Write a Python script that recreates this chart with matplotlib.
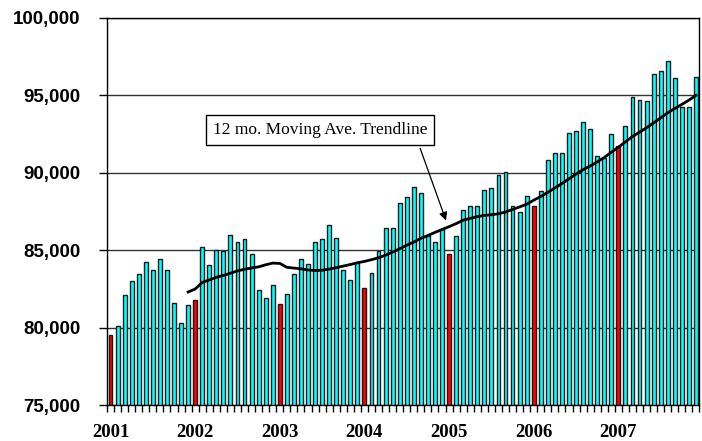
import numpy as np
import pandas as pd
import matplotlib
matplotlib.use("Agg")
import matplotlib.pyplot as plt
from matplotlib.ticker import FixedLocator

# monthly values, Jan..Dec
y2001 = [79500, 80100, 82100, 83000, 83450, 84250, 83700, 84450, 83700, 81600, 80300, 81450]
y2002 = [81800, 85200, 84050, 85000, 84950, 85950, 85500, 85700, 84750, 82450, 81900, 82750]
y2003 = [81550, 82200, 83450, 84400, 84100, 85500, 85700, 86650, 85800, 83700, 83100, 84150]
y2004 = [82550, 83550, 84950, 86450, 86450, 88050, 88450, 89100, 88700, 85900, 85500, 86400]
y2005 = [84750, 85900, 87600, 87850, 87850, 88900, 89050, 89850, 90050, 87850, 87500, 88500]
y2006 = [87850, 88800, 90800, 91250, 91250, 92600, 92700, 93300, 92800, 91100, 90950, 92500]
y2007 = [91750, 93000, 94900, 94700, 94650, 96350, 96600, 97250, 96100, 94250, 94250, 96200]
years = ["2001", "2002", "2003", "2004", "2005", "2006", "2007"]
yticks = [75000, 80000, 85000, 90000, 95000, 100000]

values = np.array(y2001 + y2002 + y2003 + y2004 + y2005 + y2006 + y2007)
x = np.arange(len(values))
# 12 month trailing average (the chart's trendline)
ma = pd.Series(values).rolling(12).mean()

colors = ["#FF0000" if i % 12 == 0 else "#00FFFF" for i in x]

fig = plt.figure(figsize=(7.02, 4.41), dpi=100)
ax = fig.add_axes([0.1524, 0.0816, 0.8440, 0.8776])

ax.set_axisbelow(True)
ax.yaxis.grid(True, color="#333333", linewidth=1)
ax.bar(x, values, width=0.55, color=colors, edgecolor="#1a1a1a", linewidth=1.0, zorder=2)
ax.plot(x, ma, color="black", linewidth=2, zorder=3)

ax.set_xlim(-0.5, len(values) - 0.5)
ax.set_ylim(75000, 100000)
ax.set_yticks(yticks)
ax.set_yticklabels([f"{v:,}" for v in yticks], fontfamily="Liberation Sans",
                   fontweight="bold", fontsize=13.5)
ax.tick_params(axis="y", direction="out", length=6, width=1, pad=13)

ax.set_xticks(np.arange(0, len(values), 12))
ax.set_xticklabels(years, fontfamily="Liberation Serif", fontweight="bold", fontsize=13.5)
ax.xaxis.set_minor_locator(FixedLocator(np.arange(-0.5, len(values), 1)))
ax.tick_params(axis="x", which="major", length=0, pad=14)
ax.tick_params(axis="x", which="minor", direction="out", length=5, width=1)

for s in ax.spines.values():
    s.set_color("black")
    s.set_linewidth(1)

ax.annotate("12 mo. Moving Ave. Trendline", xy=(47.7, 86750), xytext=(29.7, 92750),
            ha="center", va="center", fontfamily="Liberation Serif", fontsize=12.5,
            bbox=dict(boxstyle="square,pad=0.4", facecolor="white", edgecolor="black", linewidth=1),
            arrowprops=dict(arrowstyle="-|>", color="black", linewidth=0.9,
                            mutation_scale=12, relpos=(0.95, 0)),
            zorder=5)

fig.savefig("out.png", dpi=100)
